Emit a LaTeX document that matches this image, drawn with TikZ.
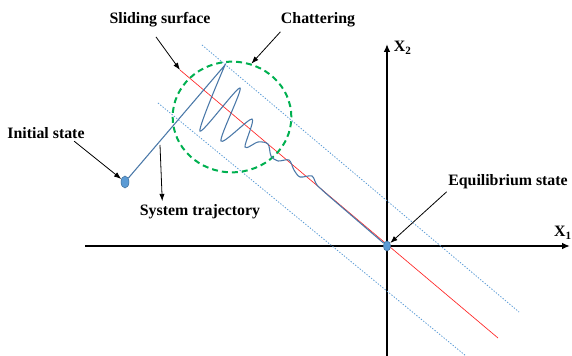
\documentclass[tikz,border=0pt]{standalone}
\usepackage{fontspec}
\setmainfont{Liberation Serif}
\usetikzlibrary{arrows.meta,calc,positioning,shapes.geometric}

\definecolor{trajblue}{HTML}{4A78A8}
\definecolor{dotblue}{HTML}{5B9BD5}
\definecolor{dotedge}{HTML}{41719C}
\definecolor{bandblue}{HTML}{5B9BD5}
\definecolor{chatgreen}{HTML}{00B050}

\begin{document}
\begin{tikzpicture}[
  x=0.75pt, y=-0.75pt,
  lbl/.style={font=\bfseries\fontsize{11.9}{14}\selectfont, inner sep=1pt},
  arr/.style={-{Latex[length=5.5pt,width=4pt]}, line width=0.6pt},
  axis/.style={-{Latex[length=6pt,width=5pt]}, line width=1.4pt},
  surface/.style={red!85, line width=0.5pt},
  band/.style={bandblue, line width=0.6pt, dash pattern=on 1pt off 1.2pt},
  traj/.style={trajblue, line width=0.8pt},
  dot/.style={draw=dotedge, fill=dotblue, ellipse, inner sep=0pt, line width=0.4pt},
  chatter/.style={draw=chatgreen, ellipse, line width=1.5pt, dash pattern=on 4.5pt off 3pt}
]
\useasboundingbox (0,0) rectangle (572,356);

% axes
\coordinate (o) at (387,246);
\coordinate (xl) at (85,246);
\coordinate (xr) at (570,246);
\coordinate (yb) at (387,356);
\coordinate (yt) at (387,44);
\draw[axis] (xl) -- (xr);
\draw[axis] (yb) -- (yt);
\node[lbl, right=4pt of yt, yshift=-3pt] (x2) {X\textsubscript{2}};
\node[lbl] (x1) at (563,233) {X\textsubscript{1}};

% sliding surface and boundary layer
\coordinate (ss-a) at (180,70);
\coordinate (ss-b) at (498,338);
\draw[surface] (ss-a) -- (ss-b);
\coordinate (bu-a) at (202,45);
\coordinate (bu-b) at (519,312);
\coordinate (bl-a) at (158,103);
\coordinate (bl-b) at (466,356);
\draw[band] (bu-a) -- (bu-b);
\draw[band] (bl-a) -- (bl-b);

% chattering zone
\node[chatter, minimum width=89pt, minimum height=83pt] (chatzone) at (232,117) {};

% states
\node[dot, minimum width=6pt, minimum height=9pt] (init) at (125,182) {};
\node[dot, minimum width=5.5pt, minimum height=7.5pt] (eq) at (o) {};

% system trajectory
\coordinate (peak) at (225,65);
\draw[traj] (init) -- (peak) -- plot[smooth, tension=0.5] coordinates {
  (225,65) (200,131) (240,88) (221,141) (252,119) (245,147)
  (258,142) (268,144) (271,156) (278,161) (289,160) (294,170)
  (300,177) (312,176) (317,185) (330,197)}
  -- (eq);

% labels
\node[lbl] (sliding) at (160,20) {Sliding surface};
\node[lbl] (chat) at (318,20) {Chattering};
\node[lbl] (initlbl) at (46,133) {Initial state};
\node[lbl] (syslbl) at (200,212) {System trajectory};
\node[lbl] (eqlbl) at (508,182) {Equilibrium state};

\coordinate (on-traj) at (160,145);
\draw[arr] ([shift={(-4,8)}]sliding.south) -- (ss-a);
\draw[arr] ([shift={(1,3)}]chat.south west) -- (chatzone.70);
\draw[arr] ([shift={(-12,1)}]initlbl.south east) -- (init);
\draw[arr] (on-traj) -- ([shift={(24,-2)}]syslbl.north west);
\draw[arr] ([shift={(0,1)}]eqlbl.south west) -- (eq);
\end{tikzpicture}
\end{document}
